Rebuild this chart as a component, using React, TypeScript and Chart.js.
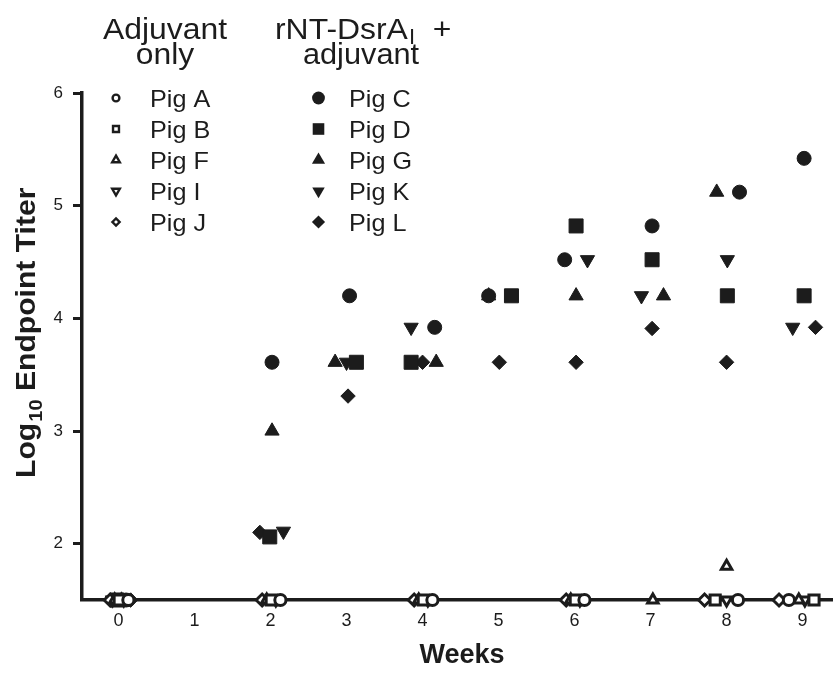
import React, { useEffect, useRef } from 'react';
import { Chart, registerables } from 'chart.js';

Chart.register(...registerables);

const FONT = '"Liberation Sans", Arial, Helvetica, sans-serif';
const INK = '#1c1c1c';
const BASE = 1.5;

// Axis ticks
const weekTicks = [0, 1, 2, 3, 4, 5, 6, 7, 8, 9];
const titerTicks = [2, 3, 4, 5, 6];

// Adjuvant only (open symbols)
const pigAWeeks = [0.13, 2.13, 4.13, 6.13, 8.15, 8.82];
const pigATiters = [BASE, BASE, BASE, BASE, BASE, BASE];
const pigBWeeks = [0.01, 2.01, 4.01, 6.01, 7.85, 9.15];
const pigBTiters = [BASE, BASE, BASE, BASE, BASE, BASE];
const pigFWeeks = [-0.05, 1.95, 3.95, 5.95, 7.03, 8.0, 8.95];
const pigFTiters = [BASE, BASE, BASE, BASE, BASE, 1.8, BASE];
const pigIWeeks = [0.07, 2.07, 4.07, 6.07, 8.0, 9.03];
const pigITiters = [BASE, BASE, BASE, BASE, BASE, BASE];
const pigJWeeks = [-0.11, 1.89, 3.89, 5.89, 7.71, 8.69];
const pigJTiters = [BASE, BASE, BASE, BASE, BASE, BASE];

// rNT-DsrA_I + adjuvant (filled symbols)
const pigCWeeks = [0.1, 2.02, 3.04, 4.16, 4.87, 5.87, 7.02, 8.17, 9.02];
const pigCTiters = [BASE, 3.61, 4.2, 3.92, 4.2, 4.52, 4.82, 5.12, 5.42];
const pigDWeeks = [-0.02, 1.99, 3.13, 3.85, 5.17, 6.02, 7.02, 8.01, 9.02];
const pigDTiters = [BASE, 2.06, 3.61, 3.61, 4.2, 4.82, 4.52, 4.2, 4.2];
const pigGWeeks = [0.04, 2.02, 2.85, 4.18, 4.87, 6.02, 7.17, 7.87];
const pigGTiters = [BASE, 3.0, 3.61, 3.61, 4.2, 4.2, 4.2, 5.12];
const pigKWeeks = [-0.08, 2.17, 3.0, 3.85, 6.17, 6.88, 8.01, 8.87];
const pigKTiters = [BASE, 2.11, 3.61, 3.92, 4.52, 4.2, 4.52, 3.92];
const pigLWeeks = [0.16, 1.86, 3.02, 4.0, 5.01, 6.02, 7.02, 8.0, 9.17];
const pigLTiters = [BASE, 2.1, 3.31, 3.61, 3.61, 3.61, 3.91, 3.61, 3.92];

const adjuvantLabels = ['Pig A', 'Pig B', 'Pig F', 'Pig I', 'Pig J'];
const vaccineLabels = ['Pig C', 'Pig D', 'Pig G', 'Pig K', 'Pig L'];

type Shape = 'circle' | 'rect' | 'triangle' | 'triangleDown' | 'rectRot';
const shapes: Shape[] = ['circle', 'rect', 'triangle', 'triangleDown', 'rectRot'];

const toPts = (xs: number[], ys: number[]) => xs.map((x, i) => ({ x, y: ys[i] }));

const openRadius: Record<Shape, number> = { circle: 5.6, rect: 7.2, triangle: 6, triangleDown: 6, rectRot: 6 };
const filledRadius: Record<Shape, number> = { circle: 7, rect: 9.9, triangle: 8.2, triangleDown: 8.2, rectRot: 7.2 };
const legendOpenRadius: Record<Shape, number> = { circle: 3.4, rect: 4.2, triangle: 4.4, triangleDown: 4.4, rectRot: 3.6 };
const legendFilledRadius: Record<Shape, number> = { circle: 6.4, rect: 8.2, triangle: 7.6, triangleDown: 7.2, rectRot: 6.6 };

function makeDataset(label: string, shape: Shape, xs: number[], ys: number[], filled: boolean) {
  const pointStyle = shape === 'triangleDown' ? 'triangle' : shape;
  return {
    label,
    data: toPts(xs, ys),
    pointStyle,
    rotation: shape === 'triangleDown' ? 180 : 0,
    pointRadius: filled ? filledRadius[shape] : openRadius[shape],
    backgroundColor: filled ? INK : '#ffffff',
    borderColor: INK,
    borderWidth: filled ? 1 : 3,
    showLine: false,
    clip: false as const,
  };
}

function drawShape(ctx: CanvasRenderingContext2D, shape: Shape, x: number, y: number, r: number) {
  ctx.beginPath();
  if (shape === 'circle') {
    ctx.arc(x, y, r, 0, Math.PI * 2);
  } else if (shape === 'rect') {
    const s = r * Math.SQRT1_2;
    ctx.rect(x - s, y - s, 2 * s, 2 * s);
  } else if (shape === 'rectRot') {
    ctx.moveTo(x - r, y);
    ctx.lineTo(x, y - r);
    ctx.lineTo(x + r, y);
    ctx.lineTo(x, y + r);
  } else {
    let rad = shape === 'triangleDown' ? Math.PI : 0;
    ctx.moveTo(x + Math.sin(rad) * r, y - Math.cos(rad) * r);
    rad += (2 * Math.PI) / 3;
    ctx.lineTo(x + Math.sin(rad) * r, y - Math.cos(rad) * r);
    rad += (2 * Math.PI) / 3;
    ctx.lineTo(x + Math.sin(rad) * r, y - Math.cos(rad) * r);
  }
  ctx.closePath();
}

// draw text stretched horizontally by sx, anchored per textAlign
function wideText(ctx: CanvasRenderingContext2D, text: string, x: number, y: number, sx: number) {
  ctx.save();
  ctx.translate(x, y);
  ctx.scale(sx, 1);
  ctx.fillText(text, 0, 0);
  ctx.restore();
}

const annotationPlugin = {
  id: 'annotations',
  afterDraw(chart: any) {
    const ctx: CanvasRenderingContext2D = chart.ctx;
    const HS = 1.1;
    ctx.save();
    ctx.fillStyle = INK;
    ctx.textBaseline = 'alphabetic';

    // group headers
    ctx.font = `29px ${FONT}`;
    ctx.textAlign = 'center';
    wideText(ctx, 'Adjuvant', 165, 39, HS);
    wideText(ctx, 'only', 165, 64, HS);
    wideText(ctx, 'adjuvant', 361, 64, 1.06);
    wideText(ctx, '+', 442, 39, HS);
    ctx.textAlign = 'left';
    const head = 'rNT-DsrA';
    const hx = 275;
    wideText(ctx, head, hx, 39, HS);
    const w1 = ctx.measureText(head).width * HS;
    ctx.font = `22px ${FONT}`;
    wideText(ctx, 'I', hx + w1 + 1, 44, 1);

    // legend rows
    ctx.font = `24px ${FONT}`;
    for (let i = 0; i < 5; i++) {
      const cy = 98 + 31 * i;
      const shape = shapes[i];
      drawShape(ctx, shape, 116, cy, legendOpenRadius[shape]);
      ctx.fillStyle = '#ffffff';
      ctx.fill();
      ctx.lineWidth = 2.4;
      ctx.strokeStyle = INK;
      ctx.stroke();
      ctx.fillStyle = INK;
      wideText(ctx, adjuvantLabels[i], 150, cy + 8.7, 1.05);

      drawShape(ctx, shape, 318.5, cy, legendFilledRadius[shape]);
      ctx.fill();
      wideText(ctx, vaccineLabels[i], 349, cy + 8.7, 1.05);
    }

    // x-axis title
    ctx.font = `bold 27px ${FONT}`;
    ctx.textAlign = 'center';
    ctx.fillText('Weeks', 462, 663);

    // y-axis title with subscript (stretched along its length)
    ctx.save();
    ctx.translate(35, 478);
    ctx.rotate(-Math.PI / 2);
    ctx.scale(1.115, 1);
    ctx.textAlign = 'left';
    ctx.font = `bold 27px ${FONT}`;
    ctx.fillText('Log', 0, 0);
    let off = ctx.measureText('Log').width;
    ctx.font = `bold 18px ${FONT}`;
    ctx.fillText('10', off + 1, 7);
    off += ctx.measureText('10').width + 1;
    ctx.font = `bold 27px ${FONT}`;
    ctx.fillText(' Endpoint Titer', off, 0);
    ctx.restore();

    ctx.restore();
  },
};

export default function App() {
  const ref = useRef<HTMLCanvasElement>(null);
  useEffect(() => {
    document.body.style.margin = '0';
    const datasets = [
      makeDataset('Pig A', 'circle', pigAWeeks, pigATiters, false),
      makeDataset('Pig B', 'rect', pigBWeeks, pigBTiters, false),
      makeDataset('Pig F', 'triangle', pigFWeeks, pigFTiters, false),
      makeDataset('Pig I', 'triangleDown', pigIWeeks, pigITiters, false),
      makeDataset('Pig J', 'rectRot', pigJWeeks, pigJTiters, false),
      makeDataset('Pig C', 'circle', pigCWeeks, pigCTiters, true),
      makeDataset('Pig D', 'rect', pigDWeeks, pigDTiters, true),
      makeDataset('Pig G', 'triangle', pigGWeeks, pigGTiters, true),
      makeDataset('Pig K', 'triangleDown', pigKWeeks, pigKTiters, true),
      makeDataset('Pig L', 'rectRot', pigLWeeks, pigLTiters, true),
    ];
    const chart = new Chart(ref.current as HTMLCanvasElement, {
      type: 'scatter',
      data: { datasets: datasets as any },
      options: {
        responsive: false,
        animation: false,
        layout: { autoPadding: false, padding: { top: 93, left: 0, right: 0, bottom: 0 } },
        plugins: { legend: { display: false }, tooltip: { enabled: false }, title: { display: false } },
        scales: {
          x: {
            type: 'linear',
            min: -0.48,
            max: 9.4,
            afterFit: (s: any) => { s.height = 73; s.paddingLeft = 0; s.paddingRight = 0; },
            afterBuildTicks: (s: any) => { s.ticks = weekTicks.map((v) => ({ value: v })); },
            grid: { display: true, drawOnChartArea: false, drawTicks: false, color: INK },
            border: { display: true, color: INK, width: 3.5 },
            ticks: { font: { family: FONT, size: 18 }, color: INK, padding: 10, maxRotation: 0, autoSkip: false },
          },
          y: {
            type: 'linear',
            min: 1.5,
            max: 6,
            afterFit: (s: any) => { s.width = 82; s.paddingTop = 0; s.paddingBottom = 0; },
            afterBuildTicks: (s: any) => { s.ticks = titerTicks.map((v) => ({ value: v })); },
            grid: { display: true, drawOnChartArea: false, drawTicks: true, tickLength: 9, tickWidth: 3, tickColor: INK, color: INK },
            border: { display: true, color: INK, width: 3.5 },
            ticks: { font: { family: FONT, size: 17 }, color: INK, padding: 10 },
          },
        },
      },
      plugins: [annotationPlugin],
    });
    return () => chart.destroy();
  }, []);
  return (
    <div style={{ position: 'absolute', left: 0, top: 0, width: 833, height: 673, background: '#ffffff' }}>
      <canvas ref={ref} width={833} height={673} style={{ width: 833, height: 673, display: 'block' }} />
    </div>
  );
}
